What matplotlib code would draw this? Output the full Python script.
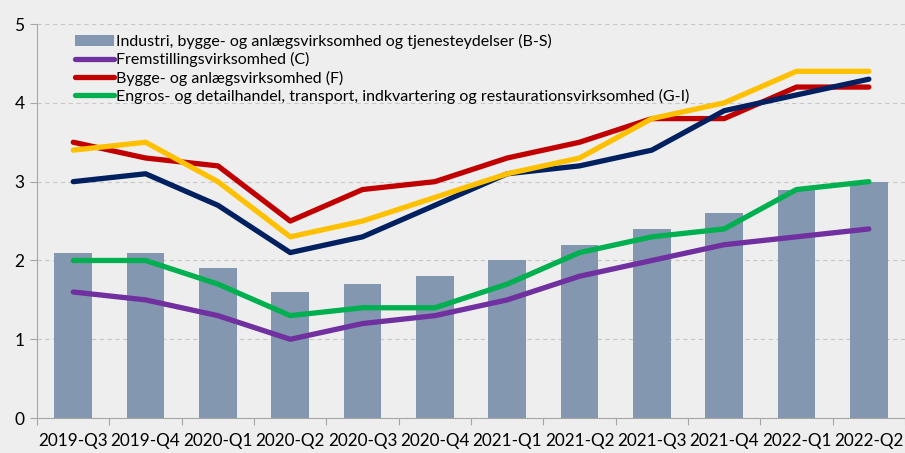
import matplotlib.pyplot as plt
import numpy as np

plt.rcParams['font.family'] = ['Lato', 'Open Sans', 'DejaVu Sans']

quarters = ['2019-Q3', '2019-Q4', '2020-Q1', '2020-Q2', '2020-Q3', '2020-Q4',
            '2021-Q1', '2021-Q2', '2021-Q3', '2021-Q4', '2022-Q1', '2022-Q2']
total_bs = [2.1, 2.1, 1.9, 1.6, 1.7, 1.8, 2.0, 2.2, 2.4, 2.6, 2.9, 3.0]
fremstilling = [1.6, 1.5, 1.3, 1.0, 1.2, 1.3, 1.5, 1.8, 2.0, 2.2, 2.3, 2.4]
bygge = [3.5, 3.3, 3.2, 2.5, 2.9, 3.0, 3.3, 3.5, 3.8, 3.8, 4.2, 4.2]
engros = [2.0, 2.0, 1.7, 1.3, 1.4, 1.4, 1.7, 2.1, 2.3, 2.4, 2.9, 3.0]
navy_series = [3.0, 3.1, 2.7, 2.1, 2.3, 2.7, 3.1, 3.2, 3.4, 3.9, 4.1, 4.3]
yellow_series = [3.4, 3.5, 3.0, 2.3, 2.5, 2.8, 3.1, 3.3, 3.8, 4.0, 4.4, 4.4]

bg = '#EEEEEE'
fig = plt.figure(figsize=(9.05, 4.53), dpi=100, facecolor=bg)
ax = fig.add_axes([0.041, 0.077, 0.959, 0.87])
ax.set_facecolor(bg)

x = np.arange(len(quarters))
bars = ax.bar(x, total_bs, width=0.52, color='#8497B0', zorder=2,
              label='Industri, bygge- og anlægsvirksomhed og tjenesteydelser (B-S)')
lw = 3.8
l1, = ax.plot(x, fremstilling, color='#7030A0', lw=lw, solid_capstyle='round', zorder=3,
              label='Fremstillingsvirksomhed (C)')
l2, = ax.plot(x, bygge, color='#C00000', lw=lw, solid_capstyle='round', zorder=3,
              label='Bygge- og anlægsvirksomhed (F)')
l3, = ax.plot(x, engros, color='#00B050', lw=lw, solid_capstyle='round', zorder=3,
              label='Engros- og detailhandel, transport, indkvartering og restaurationsvirksomhed (G-I)')
ax.plot(x, navy_series, color='#002060', lw=lw, solid_capstyle='round', zorder=3)
ax.plot(x, yellow_series, color='#FFC000', lw=lw, solid_capstyle='round', zorder=3)

ax.set_xlim(-0.5, len(quarters) - 0.5)
ax.set_ylim(0, 5)
ax.set_yticks([0, 1, 2, 3, 4, 5])
ax.yaxis.grid(True, color='#C8C8C8', linestyle=(0, (4, 3)), lw=0.8, zorder=0)

ax.set_xticks(np.arange(-0.5, len(quarters), 1.0))
ax.set_xticklabels([])
ax.set_xticks(x, minor=True)
ax.set_xticklabels(quarters, minor=True, fontsize=12.3)
ax.tick_params(axis='x', which='minor', length=0, pad=11)
ax.tick_params(axis='x', which='major', length=5, color='#A6A6A6')
ax.tick_params(axis='y', length=5, color='#A6A6A6', labelsize=12.5, pad=4)

for s in ['top', 'right']:
    ax.spines[s].set_visible(False)
for s in ['left', 'bottom']:
    ax.spines[s].set_color('#A6A6A6')

ax.legend(handles=[bars, l1, l2, l3], loc='upper left', bbox_to_anchor=(0.035, 0.995),
          frameon=False, fontsize=11.5, handlelength=2.4, handletextpad=0.15,
          labelspacing=0.2, borderaxespad=0.1)

fig.savefig('out.png', dpi=100, facecolor=bg)
